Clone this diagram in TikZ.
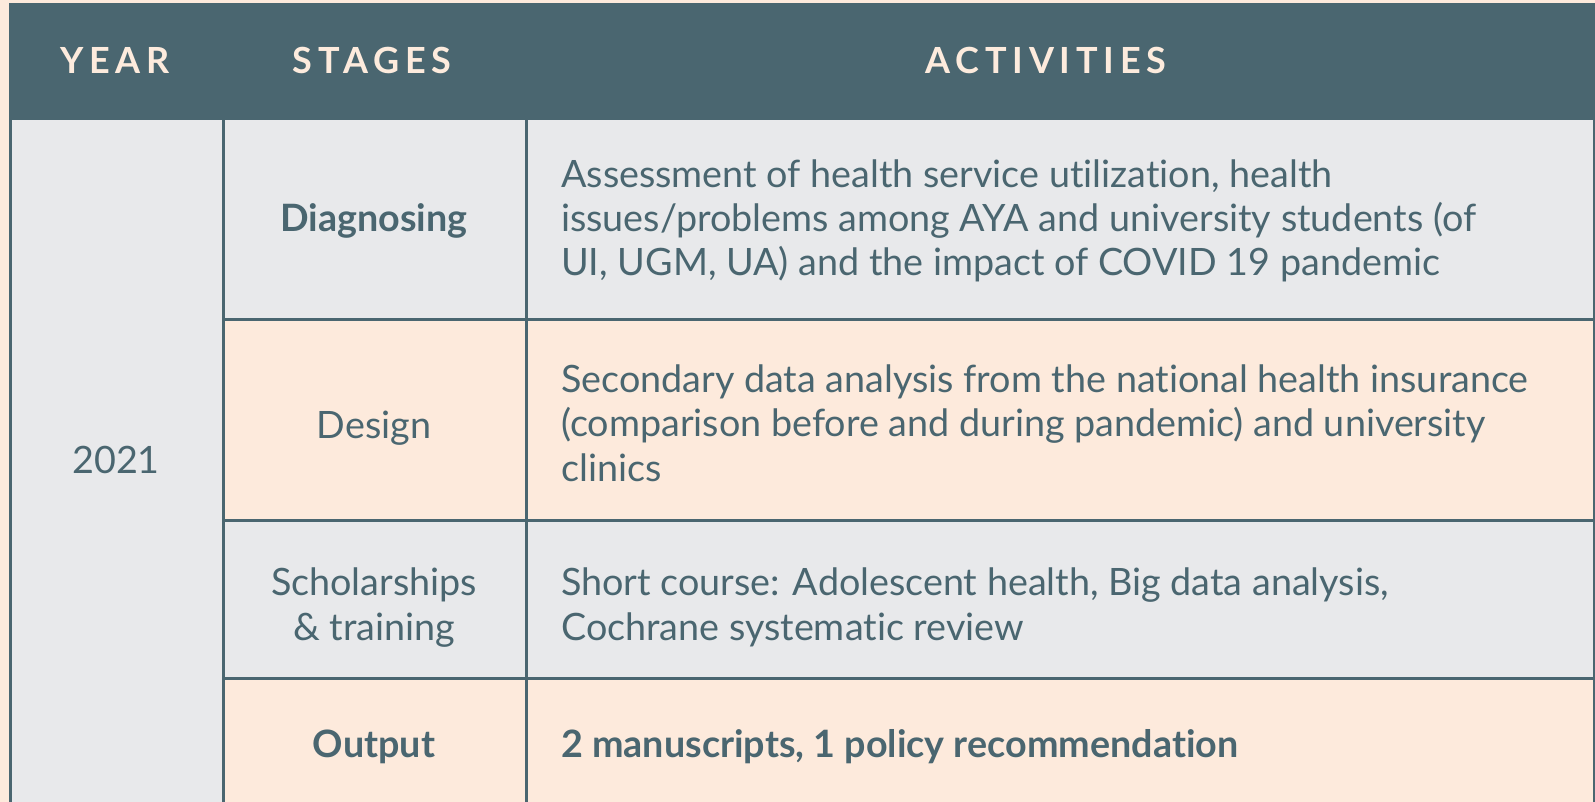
\documentclass[tikz,border=0pt]{standalone}
\usepackage{fontspec}
\setmainfont{Lato}[Ligatures={NoCommon}]
\newfontfamily\hdrfont{Lato Bold}[LetterSpace=16,Ligatures={NoCommon}]
\definecolor{teal}{HTML}{4A6670}
\definecolor{peach}{HTML}{FDEADC}
\definecolor{greycell}{HTML}{E8E9EB}
\definecolor{hdrtxt}{HTML}{FDEBDD}
\begin{document}
\begin{tikzpicture}[x=1pt,y=-1pt,
  cellg/.style={draw=teal,line width=3pt,fill=greycell},
  cellp/.style={draw=teal,line width=3pt,fill=peach},
  body/.style={text=teal,font=\fontsize{37.7}{44.3}\selectfont,inner sep=0pt},
  hdr/.style={text=hdrtxt,font=\hdrfont\fontsize{36}{40}\selectfont,inner sep=0pt},
  act/.style={body,anchor=base west,align=left},
  stg/.style={body,anchor=base,align=center}]
\useasboundingbox (0,0) rectangle (1595,802);
\clip (0,0) rectangle (1595,802);
\fill[peach] (0,0) rectangle (1595,802);
% header
\fill[teal] (9,3) rectangle (1595,119);
% year cell
\draw[cellg] (10,119) rectangle (223,806);
% stage column cells
\draw[cellg] (223,119) rectangle (526,319);
\draw[cellp] (223,319) rectangle (526,520);
\draw[cellg] (223,520) rectangle (526,678);
\draw[cellp] (223,678) rectangle (526,806);
% activities cells
\draw[cellg] (526,119) rectangle (1594,319);
\draw[cellp] (526,319) rectangle (1594,520);
\draw[cellg] (526,520) rectangle (1594,678);
\draw[cellp] (526,678) rectangle (1594,806);
% header texts
\node[hdr] (hyear) at (115,60) {YEAR};
\node[hdr] (hstage) at (372,60) {STAGES};
\node[hdr] (hact) at (1046,60) {ACTIVITIES};
% year
\node[body,anchor=base] (year) at (116,473) {2021};
% stages (base anchor = baseline of last line)
\node[stg] (s1) at (374,232) {\bfseries Diagnosing};
\node[stg] (s2) at (374,438) {Design};
\node[stg] (s3) at (374,640) {Scholarships\\\& training};
\node[stg] (s4) at (374,757) {\bfseries Output};
% activities
\node[act] (a1) at (561,276) {Assessment of health service utilization, health\\issues/problems among AYA and university students (of\\UI, UGM, UA) and the impact of COVID 19 pandemic};
\node[act] (a2) at (561,481) {Secondary data analysis from the national health insurance\\(comparison before and during pandemic) and university\\clinics};
\node[act] (a3) at (561,640) {Short course: Adolescent health, Big data analysis,\\Cochrane systematic review};
\node[act] (a4) at (561,757) {\bfseries 2 manuscripts, 1 policy recommendation};
\end{tikzpicture}
\end{document}
